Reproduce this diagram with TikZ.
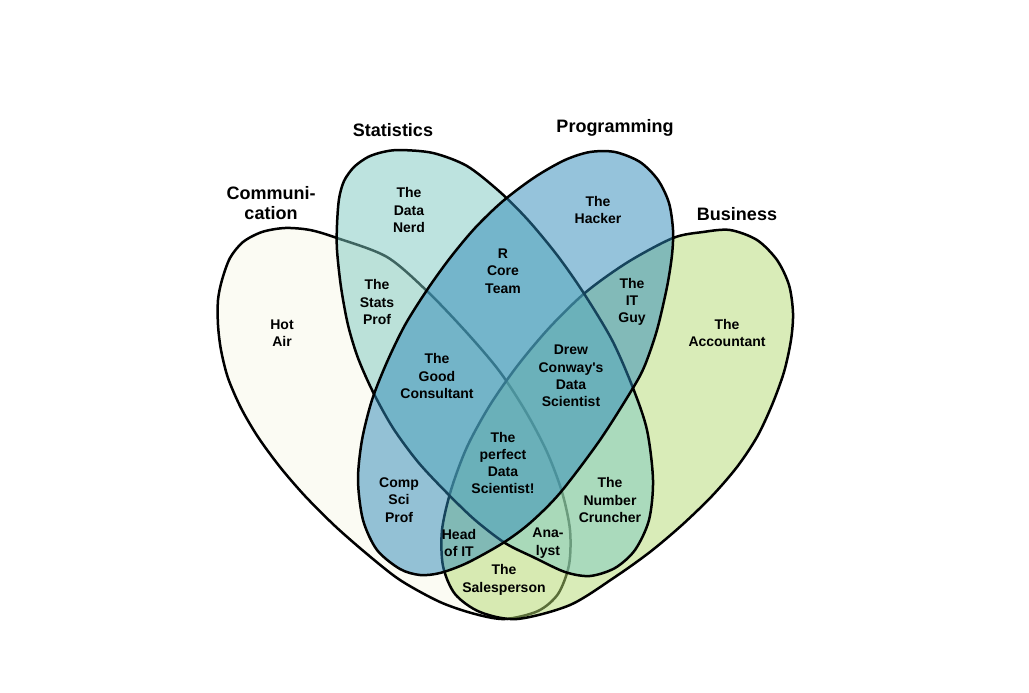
\documentclass[tikz,border=0pt]{standalone}
\usepackage{fontspec}
\setmainfont{Liberation Sans}
\definecolor{commC}{RGB}{251,251,243}
\definecolor{busC}{RGB}{181,219,115}
\definecolor{statC}{RGB}{125,201,193}
\definecolor{progC}{RGB}{45,137,185}
\tikzset{
  shapeline/.style={line width=2.5pt, line join=round, draw=black},
  lbl/.style={font=\bfseries\fontsize{14}{17.3}\selectfont, align=center, text=black, inner sep=0pt},
  ttl/.style={font=\bfseries\fontsize{18}{20}\selectfont, align=center, text=black, inner sep=0pt},
}
\begin{document}
\begin{tikzpicture}[x=1pt,y=-1pt]
\useasboundingbox (0,0) rectangle (1029,693);
\fill[white] (0,0) rectangle (1029,693);

% Communication
\draw[shapeline, fill=commC] plot[smooth cycle] coordinates {
 (218,300) (222,280) (230,258) (243,242) (262,232) (285,228) (310,230) (337,238)
 (387,257) (428,292) (468,334) (500,372) (526,412) (547,452) (562,492) (570,530)
 (569,565) (558,594) (538,611) (505,619) (475,614) (440,602) (400,580) (367,554)
 (335,526) (305,496) (280,467) (258,437) (241,408) (228,378) (221,350) (218,325)};

% Business
\draw[shapeline, fill=busC, fill opacity=0.5] plot[smooth cycle] coordinates {
 (673,238) (703,232) (730,230) (757,240) (777,260) (789,285) (793,313) (791,340)
 (784,372) (772,405) (757,437) (737,467) (712,496) (682,525) (650,552) (615,577)
 (570,605) (517,619) (480,612) (455,594) (443,566) (442,530) (451,490) (467,447)
 (490,405) (518,365) (550,327) (586,292) (628,262)};

% Statistics
\draw[shapeline, fill=statC, fill opacity=0.5] plot[smooth cycle] coordinates {
 (400,150) (433,153) (467,166) (500,192) (528,220) (557,255) (583,292) (612,340)
 (633,388) (647,430) (653,480) (649,520) (635,550) (615,568) (590,576) (565,572)
 (533,557) (505,543) (475,520) (447,493) (418,462) (393,428) (373,392) (358,358)
 (348,325) (341,287) (337,250) (337,225) (339,199) (344,181) (354,167) (368,157)
 (383,152)};

% Programming
\draw[shapeline, fill=progC, fill opacity=0.5] plot[smooth cycle] coordinates {
 (590,152) (615,152) (640,162) (658,180) (669,203) (673,230) (672,255) (667,287)
 (657,330) (645,365) (633,388) (600,440) (560,493) (530,523) (503,543) (467,563)
 (440,573) (420,575) (400,569) (377,550) (363,520) (358,480) (362,440) (372,400)
 (387,362) (405,325) (427,290) (450,258) (475,228) (503,201) (535,177) (565,160)};

% titles
\node[ttl] (tcomm) at (271,203) {Communi-\\cation};
\node[ttl] (tstat) at (393,130) {Statistics};
\node[ttl] (tprog) at (615,128) {Programming};
\node[ttl] (tbus)  at (737,214) {Business};

% labels
\node[lbl] (nerd)   at (409,210) {The\\Data\\Nerd};
\node[lbl] (hacker) at (598,210) {The\\Hacker};
\node[lbl] (hot)    at (282,333) {Hot\\Air};
\node[lbl] (rcore)  at (503,271) {R\\Core\\Team};
\node[lbl] (sprof)  at (377,302) {The\\Stats\\Prof};
\node[lbl] (itguy)  at (632,302) {The\\IT\\Guy};
\node[lbl] (acct)   at (727,333) {The\\Accountant};
\node[lbl] (good)   at (437,376) {The\\Good\\Consultant};
\node[lbl] (drew)   at (571,376) {Drew\\Conway\textquotesingle s\\Data\\Scientist};
\node[lbl] (perf)   at (503,463) {The\\perfect\\Data\\Scientist!};
\node[lbl] (comp)   at (399,500) {Comp\\Sci\\Prof};
\node[lbl] (numc)   at (610,500) {The\\Number\\Cruncher};
\node[lbl] (head)   at (459,543) {Head\\of IT};
\node[lbl] (anal)   at (548,543) {Ana-\\lyst};
\node[lbl] (sales)  at (504,580) {The\\Salesperson};
\end{tikzpicture}
\end{document}
